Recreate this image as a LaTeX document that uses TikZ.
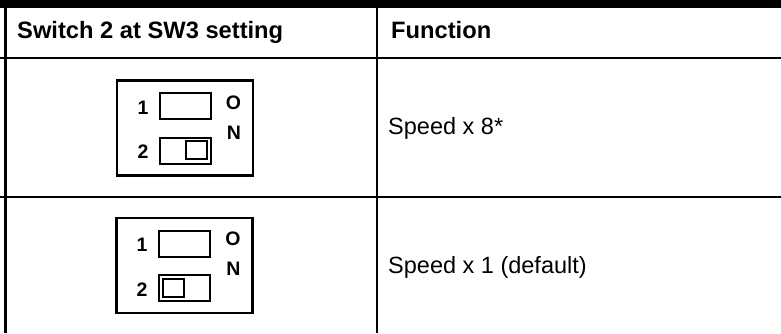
\documentclass[tikz,border=0pt]{standalone}
\usepackage{fontspec}
\setmainfont{Liberation Sans}
\usetikzlibrary{positioning}
\tikzstyle{head} = [anchor=base west, inner sep=0pt,
font=\fontsize{23.7}{27}\selectfont\bfseries]
\tikzstyle{txt} = [anchor=base west, inner sep=0pt,
font=\fontsize{23.5}{27}\selectfont]
\tikzstyle{sw} = [rectangle, draw=black, line width=2.6pt,
minimum width=136pt, minimum height=95pt, inner sep=0pt]
\tikzstyle{slot} = [rectangle, draw=black, line width=2pt,
minimum width=51pt, minimum height=26pt, inner sep=0pt]
\tikzstyle{knob} = [rectangle, draw=black, line width=2pt,
minimum width=21pt, minimum height=18pt, inner sep=0pt]
\tikzstyle{lbl} = [anchor=base, inner sep=0pt,
font=\fontsize{19.5}{21}\selectfont\bfseries]

\begin{document}
\begin{tikzpicture}[x=1pt, y=-1pt]
\useasboundingbox (0,0) rectangle (781,333);

% table lines
\fill[black] (0,0) rectangle (781,8);
\draw[line width=3pt] (5,0) -- (5,333);
\draw[line width=2.6pt] (377,0) -- (377,333);
\draw[line width=2pt] (0,58.3) -- (781,58.3);
\draw[line width=2pt] (0,197) -- (781,197);

% header
\node (hsw) [head] at (17,38.5) {Switch 2 at SW3 setting};
\node (hfn) [head] at (391,38.5) {Function};

% row 1: Speed x 8
\node (box1) [sw] at (185,128) {};
\node (s11) [slot] at (185,106) {};
\node (s12) [slot] at (185,150.5) {};
\node (k12) [knob] at (196.5,150) {};
\node (n11) [lbl] at (143,114) {1};
\node (n12) [lbl] at (143,158) {2};
\node (o1) [lbl] at (233.5,109) {O};
\node (on1) [lbl] at (234,139) {N};
\node (f1) [txt] at (388,134.5) {Speed x 8*};

% row 2: Speed x 1
\node (box2) [sw] at (184.5,265.5) {};
\node (s21) [slot] at (184,244) {};
\node (s22) [slot] at (184,288) {};
\node (k22) [knob] at (173.3,287.5) {};
\node (n21) [lbl] at (142,251) {1};
\node (n22) [lbl] at (142,296) {2};
\node (o2) [lbl] at (233,245) {O};
\node (on2) [lbl] at (233.5,275) {N};
\node (f2) [txt] at (388,273) {Speed x 1 (default)};

\end{tikzpicture}
\end{document}
